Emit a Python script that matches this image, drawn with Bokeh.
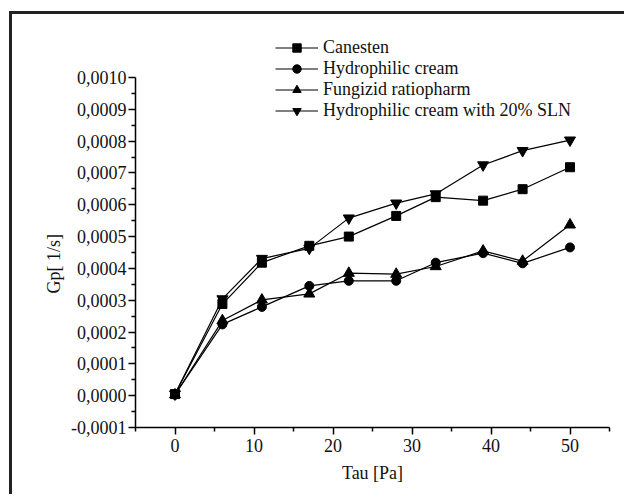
from bokeh.plotting import figure
from bokeh.models import (Range1d, FixedTicker, CustomJSTickFormatter, Title,
                          Legend)
from bokeh.embed import file_html
from bokeh.resources import INLINE

# ---- data ----
tau = [0, 6, 11, 17, 22, 28, 33, 39, 44, 50]
canesten = [0.000005, 0.000288, 0.000418, 0.000471, 0.000500, 0.000565,
            0.000624, 0.000613, 0.000649, 0.000718]
hydrophilic = [0.000003, 0.000224, 0.000279, 0.000345, 0.000361, 0.000361,
               0.000418, 0.000448, 0.000416, 0.000466]
fungizid = [0.000003, 0.000236, 0.000301, 0.000320, 0.000385, 0.000382,
            0.000406, 0.000455, 0.000423, 0.000537]
hydro_sln = [0.000005, 0.000304, 0.000431, 0.000463, 0.000558, 0.000605,
             0.000634, 0.000725, 0.000770, 0.000803]

series_names = ["Canesten", "Hydrophilic cream", "Fungizid ratiopharm",
                "Hydrophilic cream with 20% SLN"]
series_values = [canesten, hydrophilic, fungizid, hydro_sln]
series_markers = ["square", "circle", "triangle", "inverted_triangle"]
series_sizes = [9, 9, 11, 11]

x_ticks = [0, 10, 20, 30, 40, 50]
x_minor = [-5, 5, 15, 25, 35, 45, 55]
y_ticks = [-0.0001, 0.0, 0.0001, 0.0002, 0.0003, 0.0004, 0.0005, 0.0006,
           0.0007, 0.0008, 0.0009, 0.0010]
y_minor = [-0.00005, 0.00005, 0.00015, 0.00025, 0.00035, 0.00045, 0.00055,
           0.00065, 0.00075, 0.00085, 0.00095]

x_label = "Tau [Pa]"
y_label = "Gp[ 1/s]"

FONT = "Liberation Serif"

p = figure(width=615, height=483, output_backend="svg", toolbar_location=None,
           x_range=Range1d(-5, 55), y_range=Range1d(-0.0001, 0.0011477),
           min_border_left=123, min_border_right=18, min_border_top=16,
           min_border_bottom=70)
p.margin = (11, 0, 0, 9)
p.styles = {"border-left": "3px solid #222222", "border-top": "3px solid #222222"}
p.background_fill_color = "white"
p.border_fill_color = "white"
p.outline_line_color = None
p.xgrid.visible = False
p.ygrid.visible = False

fmt = CustomJSTickFormatter(code="""
const v = Math.abs(tick) < 1e-12 ? 0 : tick;
return v.toFixed(4).replace('.', ',');
""")

xa = p.xaxis[0]
xa.ticker = FixedTicker(ticks=x_ticks, minor_ticks=x_minor)
ya = p.yaxis[0]
ya.ticker = FixedTicker(ticks=y_ticks, minor_ticks=y_minor)
ya.formatter = fmt
ya.bounds = (-0.0001, 0.0010)

for ax in (xa, ya):
    ax.axis_line_color = "black"
    ax.axis_line_width = 1.5
    ax.major_tick_line_color = "black"
    ax.major_tick_line_width = 1.5
    ax.minor_tick_line_color = "black"
    ax.minor_tick_line_width = 1.5
    ax.major_tick_out = 7
    ax.major_tick_in = 0
    ax.minor_tick_out = 4
    ax.minor_tick_in = 0
    ax.major_label_text_font = FONT
    ax.major_label_text_font_size = "18px"
    ax.major_label_text_color = "#111111"

xa.major_label_standoff = 4
ya.major_label_standoff = 2
xa.axis_label = x_label
xa.axis_label_text_font = FONT
xa.axis_label_text_font_size = "18px"
xa.axis_label_text_font_style = "normal"
xa.axis_label_text_color = "#111111"
xa.axis_label_standoff = 8

legend_items = []
for name, vals, mk, sz in zip(series_names, series_values, series_markers, series_sizes):
    r1 = p.line(tau, vals, line_color="black", line_width=1.2)
    r2 = p.scatter(tau, vals, marker=mk, size=sz, fill_color="black",
                   line_color="black")
    legend_items.append((name, [r1, r2]))

legend = Legend(items=legend_items, location=(140, 306))
legend.glyph_width = 43
legend.glyph_height = 21
legend.label_height = 21
legend.spacing = 0
legend.padding = 0
legend.margin = 0
legend.label_standoff = 5
legend.border_line_color = None
legend.background_fill_alpha = 0
legend.label_text_font = FONT
legend.label_text_font_size = "18px"
legend.label_text_color = "#111111"
p.add_layout(legend)

ytitle = Title(text=y_label, align="left", offset=134, standoff=10,
               text_font=FONT, text_font_size="18px", text_font_style="normal",
               text_color="#111111")
p.add_layout(ytitle, "left")

open("out.html", "w").write(file_html(p, INLINE))
